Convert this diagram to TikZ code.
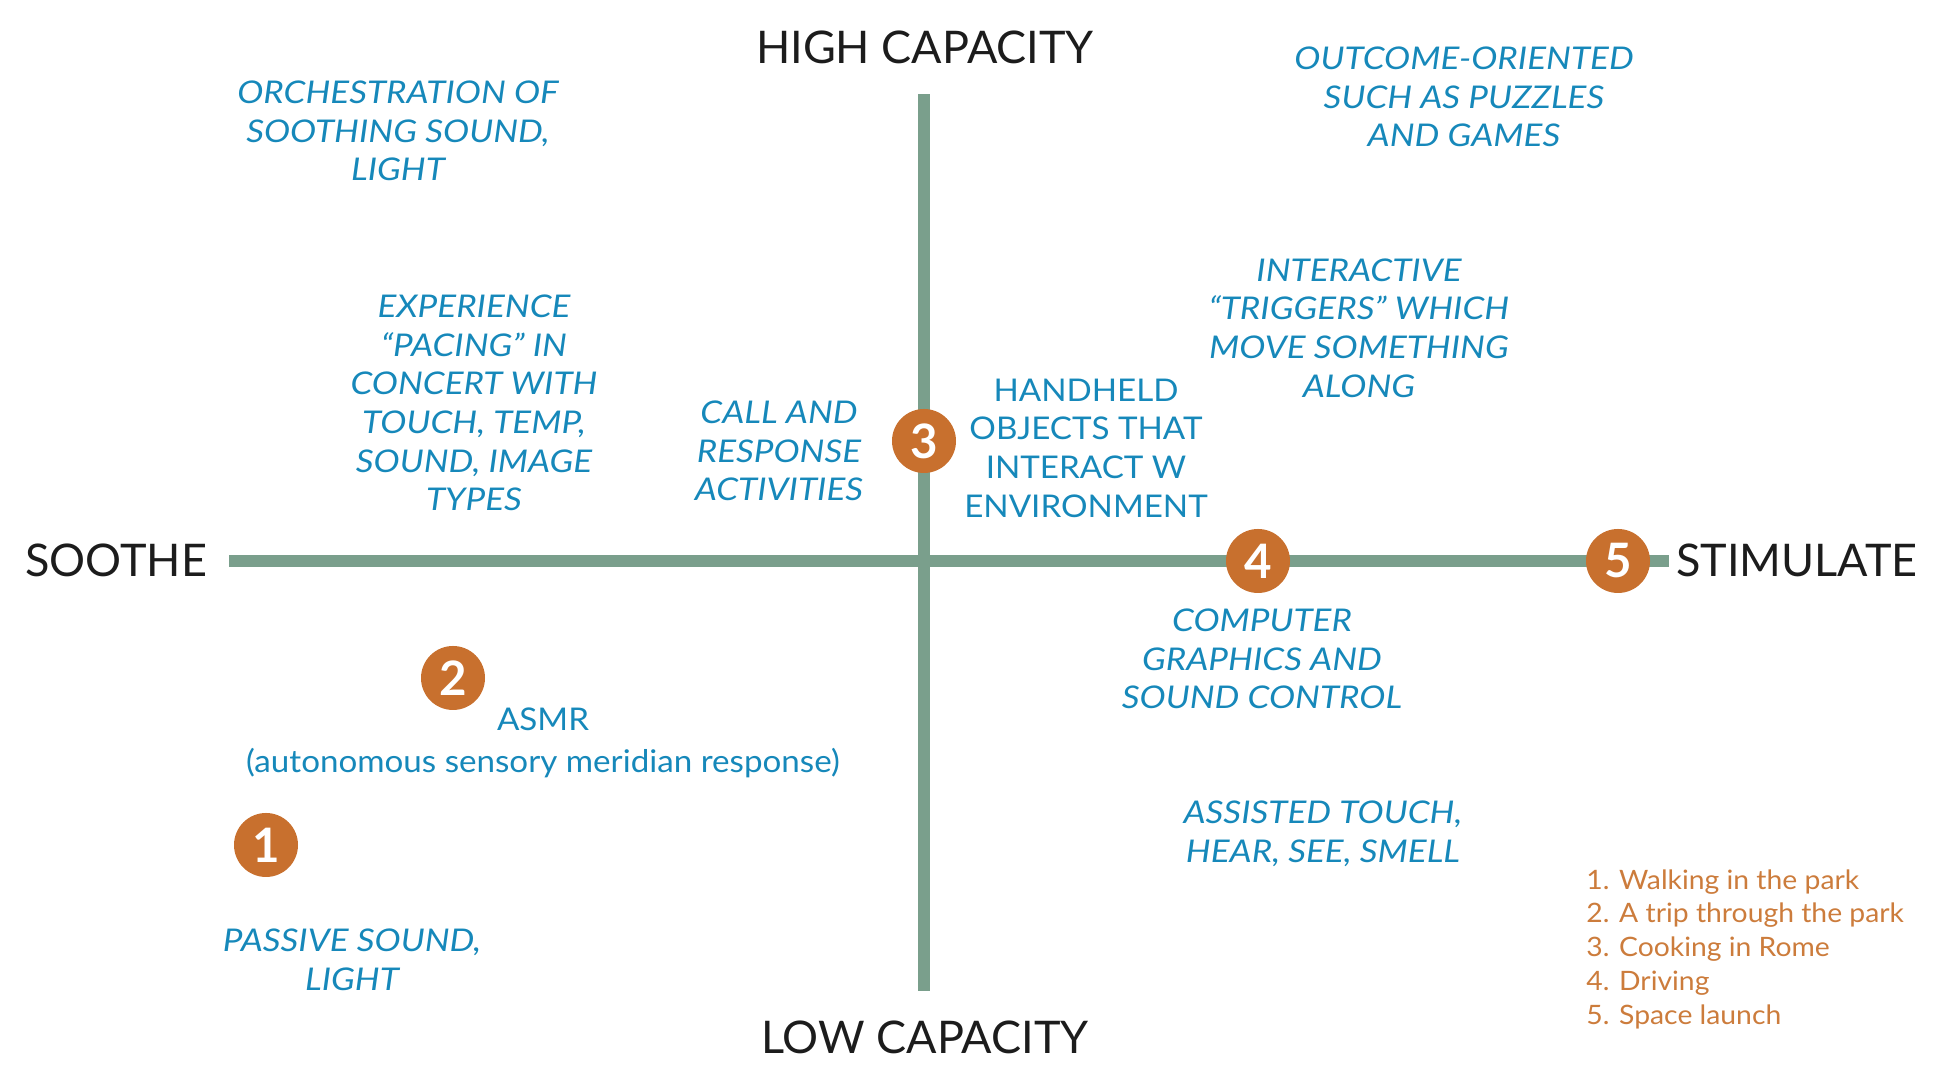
\documentclass[tikz,border=0pt]{standalone}
\usepackage{fontspec}
\setmainfont{Lato}
\newfontfamily\ideafont{Lato}[FakeStretch=1.12]
\newfontfamily\plainfont{Lato}[FakeStretch=1.06]
\usepackage{xcolor}
\usepackage{tikz}
\usetikzlibrary{positioning}
\definecolor{axisgreen}{RGB}{122, 159, 140}
\definecolor{rust}{RGB}{200, 112, 46}
\definecolor{ideablue}{RGB}{22, 136, 186}
\definecolor{legendorange}{RGB}{204, 124, 60}
\definecolor{inkgray}{RGB}{28, 28, 28}

\begin{document}
\begin{tikzpicture}[
    axisline/.style={draw=axisgreen, line width=3.4pt},
    axislabel/.style={inkgray, font=\fontsize{12.8}{15}\selectfont},
    idea/.style={ideablue, align=center, font=\ideafont\fontsize{8.9}{11}\selectfont\itshape},
    plainidea/.style={ideablue, align=center, font=\plainfont\fontsize{8.9}{11}\selectfont},
    stop/.style={circle, fill=rust, minimum size=0.64cm, inner sep=0pt, text=white, font=\fontsize{13.5}{14}\selectfont\bfseries}
]
            \useasboundingbox (0,0) rectangle (19.42,10.83);

            % Axes
            \coordinate (top) at (9.24,9.89);
            \coordinate (bottom) at (9.24,0.92);
            \coordinate (left) at (2.29,5.22);
            \coordinate (right) at (16.69,5.22);
            \draw[axisline] (left) -- (right);
            \draw[axisline] (bottom) -- (top);

            % Axis labels
            \node[axislabel] (high) at (9.25,10.36) {HIGH CAPACITY};
            \node[axislabel] (low) at (9.25,0.46) {LOW CAPACITY};
            \node[axislabel] (soothe) at (1.16,5.23) {SOOTHE};
            \node[axislabel] (stimulate) at (17.97,5.23) {STIMULATE};

            % Numbered scenes
            \node[stop] (s1) at (2.66,2.38) {1};
            \node[stop] (s2) at (4.53,4.05) {2};
            \node[stop] (s3) at (9.24,6.42) {3};
            \node[stop] (s4) at (12.58,5.22) {4};
            \node[stop] (s5) at (16.18,5.22) {5};

            % Ideas
            \node[idea] (orchestra) at (3.98,9.52) {ORCHESTRATION OF\\SOOTHING SOUND,\\LIGHT};
            \node[idea] (pacing) at (4.74,6.80) {EXPERIENCE\\“PACING” IN\\CONCERT WITH\\TOUCH, TEMP,\\SOUND, IMAGE\\TYPES};
            \node[idea] (callresp) at (7.79,6.32) {CALL AND\\RESPONSE\\ACTIVITIES};
            \node[plainidea] (handheld) at (10.86,6.35) {HANDHELD\\OBJECTS THAT\\INTERACT W\\ENVIRONMENT};
            \node[idea] (triggers) at (13.59,7.55) {INTERACTIVE\\“TRIGGERS” WHICH\\MOVE SOMETHING\\ALONG};
            \node[idea] (outcome) at (14.64,9.86) {OUTCOME-ORIENTED\\SUCH AS PUZZLES\\AND GAMES};
            \node[plainidea, font=\plainfont\fontsize{8.9}{12}\selectfont] (asmr) at (5.43,3.40) {ASMR\\(autonomous sensory meridian response)};
            \node[idea] (passive) at (3.52,1.23) {PASSIVE SOUND,\\LIGHT};
            \node[idea] (graphics) at (12.62,4.24) {COMPUTER\\GRAPHICS AND\\SOUND CONTROL};
            \node[idea] (assisted) at (13.23,2.49) {ASSISTED TOUCH,\\HEAR, SEE, SMELL};

            % Legend
            \node[legendorange, anchor=west, align=left, font=\plainfont\fontsize{7.6}{9.6}\selectfont] (legend) at (15.74,1.34) {1. Walking in the park\\2. A trip through the park\\3. Cooking in Rome\\4. Driving\\5. Space launch};
\end{tikzpicture}
\end{document}
